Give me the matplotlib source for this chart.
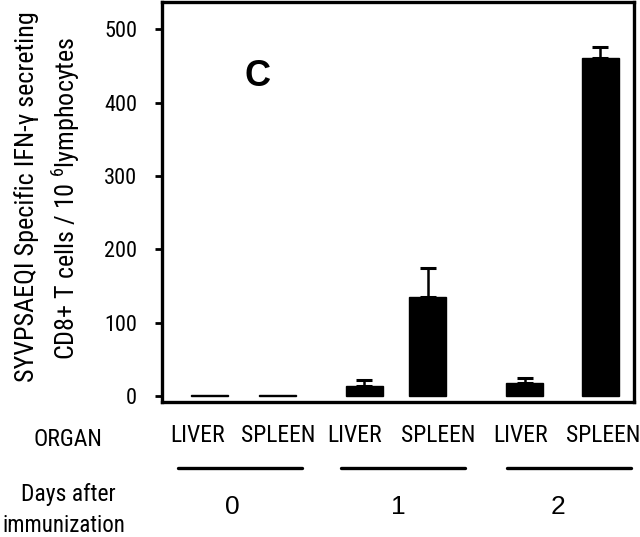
import matplotlib
matplotlib.use("Agg")
import matplotlib.pyplot as plt
import matplotlib.transforms as mtransforms

# ---- data ----
organs = ["LIVER", "SPLEEN", "LIVER", "SPLEEN", "LIVER", "SPLEEN"]
days = ["0", "1", "2"]
values = [2, 2, 13, 135, 18, 460]
errors = [0, 0, 9, 39, 7, 16]
yticks = [0, 100, 200, 300, 400, 500]

# ---- layout ----
positions = [0.71, 1.71, 3.0, 3.94, 5.38, 6.50]
label_positions = [0.52, 1.72, 2.86, 4.09, 5.32, 6.55]
group_centers = [1.16, 3.58, 6.04]
group_half = 0.92
day_label_x = [1.04, 3.50, 5.87]

NARROW = ["Roboto Condensed", "DejaVu Sans"]
REG = ["Liberation Sans", "DejaVu Sans"]
plt.rcParams["mathtext.fontset"] = "custom"
plt.rcParams["mathtext.rm"] = "Roboto Condensed"
plt.rcParams["mathtext.it"] = "Roboto Condensed"

fig = plt.figure(figsize=(6.4, 5.37), dpi=100)
ax = fig.add_axes([162/640, 1-402/537, 472/640, 400/537])

ax.bar(positions, values, width=0.55, color="black", edgecolor="black")
for x, v, e in zip(positions, values, errors):
    if e > 0:
        ax.errorbar([x], [v], yerr=[[0], [e]], fmt="none", ecolor="black",
                    elinewidth=1.8, capsize=6, capthick=2.2)

ax.set_xlim(0, 7.0)
ax.set_ylim(-8.2, 537)
ax.set_yticks(yticks)
ax.set_yticklabels([str(t) for t in yticks], family=NARROW, fontsize=16)
ax.tick_params(axis="y", direction="out", length=5, width=2, pad=13)
ax.set_xticks(label_positions)
ax.set_xticklabels(organs, family=NARROW, fontsize=17)
ax.tick_params(axis="x", length=0, pad=16)
for s in ax.spines.values():
    s.set_linewidth(2.4)

fig.text(258/640, 1-77/537, "C", ha="center", va="center",
         family=REG, fontweight="bold", fontsize=26)

trans = mtransforms.blended_transform_factory(ax.transData, fig.transFigure)
for gc in group_centers:
    ax.plot([gc - group_half, gc + group_half], [1-468/537]*2, transform=trans,
            color="black", lw=2.4, clip_on=False, solid_capstyle="round")
for x, d in zip(day_label_x, days):
    ax.text(x, 1-507/537, d, transform=trans, ha="center", va="center",
            family=REG, fontsize=19)

fig.text(68/640, 1-440/537, "ORGAN", ha="center", va="center", family=NARROW, fontsize=17)
fig.text(68/640, 1-494/537, "Days after", ha="center", va="center", family=NARROW, fontsize=17)
fig.text(2/640, 1-526/537, "immunization", ha="left", va="center", family=NARROW, fontsize=16.5)

fig.text(27/640, 1-197/537, "SYVPSAEQI Specific IFN-\u03b3 secreting", rotation=90,
         ha="center", va="center", family=NARROW, fontsize=18.8)
fig.text(66/640, 1-198/537, r"CD8+ T cells / 10 $^{6}$lymphocytes", rotation=90,
         ha="center", va="center", family=NARROW, fontsize=18.8)

fig.savefig("out.png", dpi=100)
